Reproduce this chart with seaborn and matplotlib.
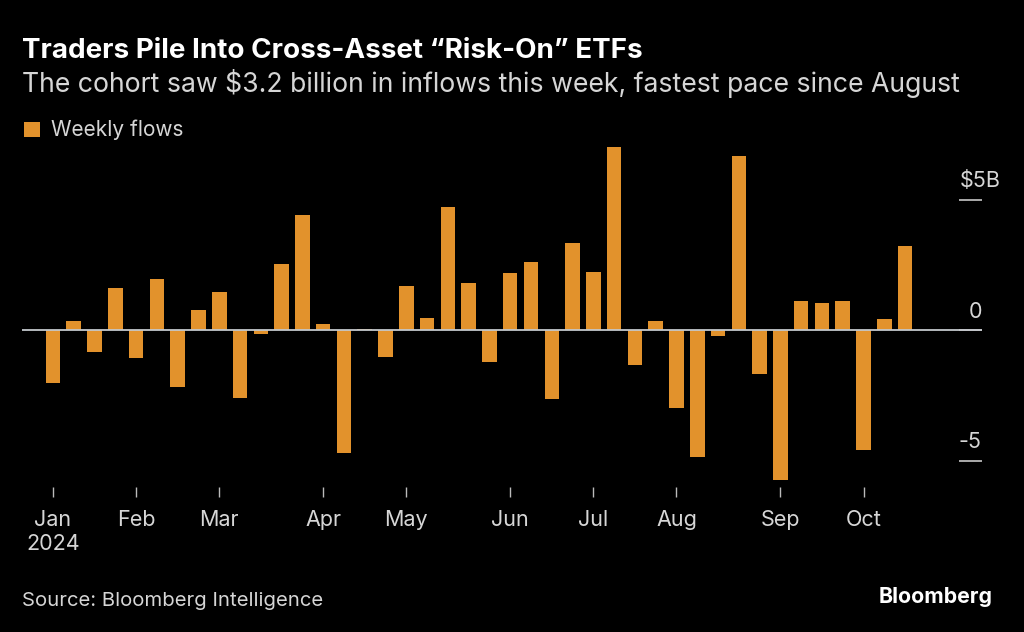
import numpy as np
import pandas as pd
import matplotlib
matplotlib.use('Agg')
import matplotlib.pyplot as plt
import matplotlib.transforms as mtransforms
import seaborn as sns

# weekly flows, $B, weeks ending on Fridays from Jan 5 2024
first_week = '2024-01-05'
flows = [-2.04, 0.34, -0.83, 1.60, -1.09, 1.97, -2.20, 0.77, 1.44, -2.60,
         -0.17, 2.54, 4.42, 0.23, -4.72, 0.05, -1.05, 1.67, 0.45, 4.70,
         1.79, -1.21, 2.17, 2.59, -2.63, 3.32, 2.21, 7.00, -1.35, 0.36,
         -3.00, -4.87, -0.24, 6.67, -1.70, -5.75, 1.10, 1.03, 1.12, -4.60,
         0.42, 3.23]
y_ticks = [-5, 0, 5]
y_tick_labels = ['-5', '0', '$5B']

weeks = pd.date_range(first_week, periods=len(flows), freq='W-FRI')
df = pd.DataFrame({'week': weeks.strftime('%Y-%m-%d'), 'flow': flows})

sns.set_style('dark')
plt.rcParams['font.family'] = ['Inter', 'DejaVu Sans']

bg = '#000000'
bar_color = '#e2922c'
text_color = '#d6d6d6'

fig = plt.figure(figsize=(10.24, 6.32), dpi=100, facecolor=bg)
ax = fig.add_axes([22 / 1024, 1 - 487 / 632, 960 / 1024, 347 / 632])
ax.set_facecolor(bg)

sns.barplot(data=df, x='week', y='flow', color=bar_color, saturation=1,
            width=0.7, label='Weekly flows', linewidth=0, edgecolor='none', ax=ax)

ax.axhline(0, color='#c4c8cc', lw=1.3, zorder=3)
ax.set_xlim(-1.49, 44.7)
ax.set_ylim(-6.015, 7.28)
for s in ax.spines.values():
    s.set_visible(False)
ax.grid(False)
ax.set_xlabel('')
ax.set_ylabel('')

# month ticks at the first week of each month
month_idx = [i for i in range(len(weeks)) if i == 0 or weeks[i].month != weeks[i - 1].month]
month_lbl = [weeks[i].strftime('%b') for i in month_idx]
month_lbl[0] = month_lbl[0] + '\n' + weeks[0].strftime('%Y')
ax.set_xticks(month_idx)
ax.set_xticklabels(month_lbl, fontsize=15.5, color=text_color, linespacing=1.25)
ax.tick_params(axis='x', direction='out', length=7.2, width=1, color='#bbbbbb',
               pad=9, bottom=True)

ax.yaxis.tick_right()
ax.set_yticks(y_ticks)
ax.tick_params(axis='y', direction='in', length=16.5, width=1.2, color='#c8c8c8',
               labelright=False, right=True, left=False)
lab_tr = mtransforms.offset_copy(ax.get_yaxis_transform(), fig=fig, x=0, y=9, units='points')
for v, t in zip(y_ticks, y_tick_labels):
    xr = 1.0198 if t.startswith('$') else 1.0
    ax.text(xr, v, t, transform=lab_tr, ha='right', va='baseline',
            fontsize=15.5, color=text_color)

leg = ax.legend(loc='upper left', bbox_to_anchor=(24 / 1024, 1 - 120 / 632),
                bbox_transform=fig.transFigure, frameon=False, fontsize=15,
                handlelength=0.75, handleheight=0.75, handletextpad=0.55,
                borderpad=0, borderaxespad=0, labelcolor=text_color)

fig.text(22 / 1024, 1 - 58 / 632, 'Traders Pile Into Cross-Asset \u201cRisk-On\u201d ETFs',
         fontsize=20, fontweight='bold', color='white', va='baseline', ha='left')
fig.text(22 / 1024, 1 - 91.5 / 632,
         'The cohort saw $3.2 billion in inflows this week, fastest pace since August',
         fontsize=19.2, color=text_color, va='baseline', ha='left')
fig.text(22 / 1024, 1 - 606.5 / 632, 'Source: Bloomberg Intelligence',
         fontsize=14.6, color=text_color, va='baseline', ha='left')
fig.text(993 / 1024, 1 - 603 / 632, 'Bloomberg', fontsize=15.3, fontweight='bold',
         color='white', va='baseline', ha='right')

fig.savefig('out.png', dpi=100, facecolor=bg)
